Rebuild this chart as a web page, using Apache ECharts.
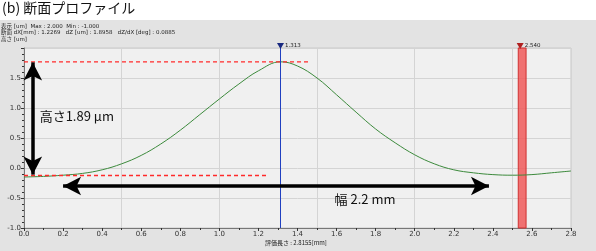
<!DOCTYPE html>
<html><head><meta charset="utf-8">
<script src="https://cdn.jsdelivr.net/npm/echarts@6/dist/echarts.min.js"></script>
<style>html,body{margin:0;padding:0;background:#fff}#c{width:596px;height:251px}</style>
</head><body><div id="c"></div>
<script>
const xValues = [0.0,0.1,0.2,0.3,0.4,0.5,0.6,0.7,0.8,0.9,1.0,1.1,1.2,1.313,1.4,1.5,1.6,1.7,1.8,1.9,2.0,2.1,2.2,2.3,2.4,2.5,2.6,2.7,2.8];
const profile = [-0.15,-0.14,-0.12,-0.09,-0.03,0.07,0.21,0.40,0.63,0.89,1.15,1.40,1.62,1.77,1.70,1.50,1.22,0.93,0.65,0.42,0.22,0.07,-0.03,-0.08,-0.11,-0.12,-0.11,-0.08,-0.05];
const xTicks = [0,0.2,0.4,0.6,0.8,1.0,1.2,1.4,1.6,1.8,2.0,2.2,2.4,2.6,2.8];
const yTicks = [-1.0,-0.5,0.0,0.5,1.0,1.5];
const cursorX = 1.313, cursorLabel = '1.313';
const bandX = [2.53, 2.57], bandLabel = '2.540';
const topLevel = 1.77, bottomLevel = -0.125;
const topLineEnd = 1.46, bottomLineEnd = 1.25;
const heightArrow = {x: 0.045, from: 1.76, to: -0.11};
const widthArrow = {y: -0.3, from: 0.2, to: 2.38};
const infoLines = ['表示 [um]  Max : 2.000  Min : -1.000', '断面 dX[mm] : 1.2269   dZ [um] : 1.8958   dZ/dX [deg] : 0.0885', '高さ [um]'];

const chart = echarts.init(document.getElementById('c'), null, {renderer: 'canvas'});
const fontJP = '"Noto Sans CJK JP", "Noto Sans", sans-serif';
const refLine = (pts, style) => ({type: 'line', data: pts, showSymbol: false, symbol: 'none', silent: true, lineStyle: style, z: 4});
const redDash = {color: '#ff2a2a', type: [4, 3], width: 1.3};
chart.setOption({
  animation: false,
  backgroundColor: '#fff',
  graphic: [
    {type: 'rect', left: 0, top: 20, shape: {width: 596, height: 231}, style: {fill: '#e3e3e3'}, z: -10},
    {type: 'text', left: 2, top: 1, style: {text: '(b) 断面プロファイル', font: '14px ' + fontJP, fill: '#111'}},
    {type: 'text', left: 1, top: 23, style: {text: infoLines.join('\n'), font: '5.5px "DejaVu Sans", ' + fontJP, fill: '#222', lineHeight: 6.5}},
    {type: 'text', left: 265, top: 240, style: {text: '評価長さ : 2.8155[mm]', font: '6px ' + fontJP, fill: '#222'}}
  ],
  grid: {left: 24, right: 25, top: 48, bottom: 23, show: true, backgroundColor: '#f0f0f0', borderColor: '#c8c8c8', borderWidth: 1},
  xAxis: [
    {type: 'value', min: 0, max: 2.8, interval: 0.2,
      axisLine: {show: true, onZero: false, lineStyle: {color: '#777', width: 1}},
      axisTick: {show: true, length: 3, lineStyle: {color: '#333'}},
      minorTick: {show: true, splitNumber: 2, length: 2, lineStyle: {color: '#333'}},
      axisLabel: {fontSize: 7, color: '#333', margin: 3, fontFamily: 'DejaVu Sans', formatter: v => v.toFixed(1)},
      splitLine: {show: false}},
    {type: 'value', min: 0, max: 2.8, interval: 0.5, show: true, axisLine: {show: false}, axisTick: {show: false}, axisLabel: {show: false},
      splitLine: {show: true, lineStyle: {color: '#d4d4d4', width: 1}}}
  ],
  yAxis: {type: 'value', min: -1, max: 2, interval: 0.5,
    axisLine: {show: true, onZero: false, lineStyle: {color: '#777', width: 1}},
    axisTick: {show: true, length: 3, lineStyle: {color: '#333'}},
    minorTick: {show: true, splitNumber: 5, length: 2, lineStyle: {color: '#333'}},
    axisLabel: {fontSize: 7, color: '#333', margin: 3, fontFamily: 'DejaVu Sans', formatter: v => v.toFixed(1), showMaxLabel: false},
    splitLine: {show: true, lineStyle: {color: '#d4d4d4', width: 1}}},
  series: [
    {type: 'line', xAxisIndex: 0, data: xValues.map((x, i) => [x, profile[i]]), smooth: 0.4, showSymbol: false,
      lineStyle: {color: '#3c8a3c', width: 1}, z: 3,
      markArea: {silent: true, itemStyle: {color: 'rgba(240,90,90,0.85)', borderColor: '#d03030', borderWidth: 1},
        data: [[{xAxis: bandX[0], yAxis: -1}, {xAxis: bandX[1], yAxis: 2}]]},
      markPoint: {silent: true, animation: false,
        data: [
          {coord: [cursorX, 2], symbol: 'triangle', symbolRotate: 180, symbolSize: [7, 6], symbolOffset: [0, -2], itemStyle: {color: '#1a2a80'},
            label: {show: true, position: 'right', distance: 1, formatter: cursorLabel, fontSize: 5.5, color: '#222', fontFamily: 'DejaVu Sans'}},
          {coord: [(bandX[0] + bandX[1]) / 2, 2], symbol: 'triangle', symbolRotate: 180, symbolSize: [7, 6], symbolOffset: [-2, -2], itemStyle: {color: '#b02020'},
            label: {show: true, position: 'right', distance: 1, formatter: bandLabel, fontSize: 5.5, color: '#222', fontFamily: 'DejaVu Sans'}},
          {coord: [0.08, 0.86], symbol: 'rect', symbolSize: 0,
            label: {show: true, position: 'right', distance: 0, formatter: '高さ1.89 μm', fontSize: 13, color: '#111', fontFamily: fontJP}},
          {coord: [1.59, -0.52], symbol: 'rect', symbolSize: 0,
            label: {show: true, position: 'right', distance: 0, formatter: '幅 2.2 mm', fontSize: 13, color: '#111', fontFamily: fontJP}}
        ]}
    },
    refLine([[0, topLevel], [topLineEnd, topLevel]], redDash),
    refLine([[0, bottomLevel], [bottomLineEnd, bottomLevel]], redDash),
    refLine([[cursorX, -1], [cursorX, 2]], {color: '#2040c0', type: 'solid', width: 1}),
    {type: 'line', data: [], markLine: {silent: true, animation: false, symbol: ['arrow', 'arrow'], symbolSize: [14, 18], label: {show: false},
      lineStyle: {color: '#000', type: 'solid', width: 3.5},
      data: [
        [{coord: [heightArrow.x, heightArrow.from]}, {coord: [heightArrow.x, heightArrow.to]}],
        [{coord: [widthArrow.from, widthArrow.y]}, {coord: [widthArrow.to, widthArrow.y]}]
      ]}}
  ]
});
</script></body></html>
